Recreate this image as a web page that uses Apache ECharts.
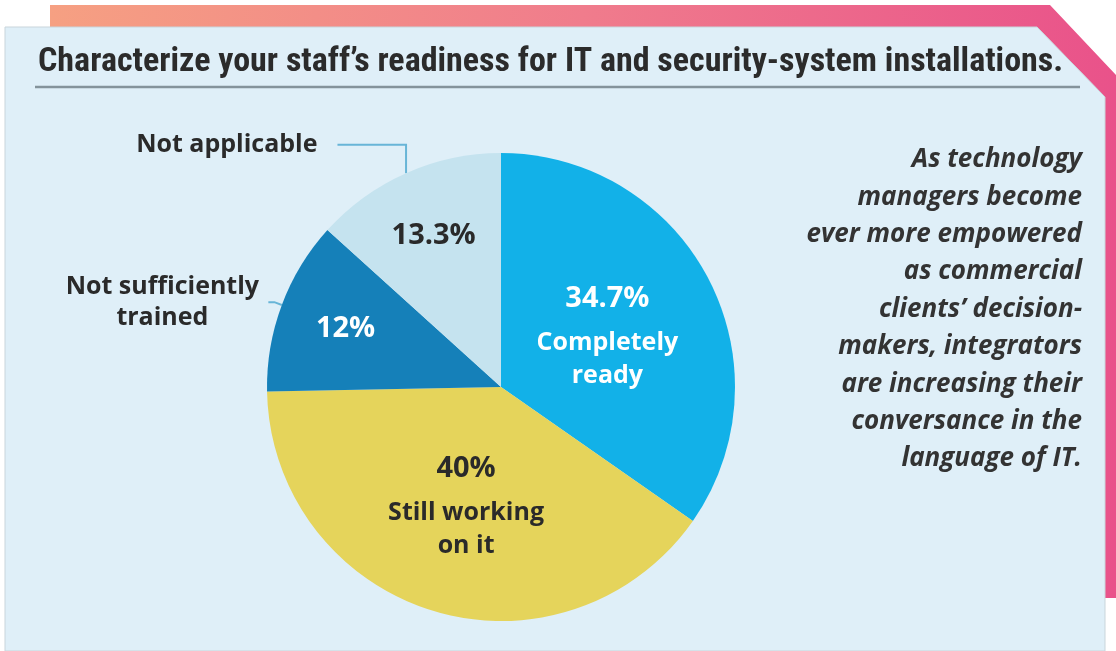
<!DOCTYPE html>
<html>
<head>
<meta charset="utf-8">
<title>Staff readiness for IT installations</title>
<script src="https://cdn.jsdelivr.net/npm/echarts@6/dist/echarts.min.js"></script>
<style>
  html, body { margin: 0; padding: 0; background: #ffffff; }
  #chart { width: 1116px; height: 651px; }
</style>
</head>
<body>
<div id="chart"></div>
<script>
// 数据
const categories = ['Completely ready', 'Still working on it', 'Not sufficiently trained', 'Not applicable'];
const shares = [34.7, 40, 12, 13.3];
const shareLabels = ['34.7%', '40%', '12%', '13.3%'];
const labelLines = ['Completely\nready', 'Still working\non it', 'Not sufficiently\ntrained', 'Not applicable'];
const sliceColors = ['#12b1e8', '#e5d45b', '#1580b9', '#c5e3ef'];
const titleText = 'Characterize your staff\u2019s readiness for IT and security-system installations.';
const noteLines = [
  'As technology',
  'managers become',
  'ever more empowered',
  'as commercial',
  'clients\u2019 decision-',
  'makers, integrators',
  'are increasing their',
  'conversance in the',
  'language of IT.'
];

const chart = echarts.init(document.getElementById('chart'));

const labelFont = '"Open Sans", Lato, sans-serif';
const leaderColor = '#68b5d7';

// 大扇区：百分比 + 名称放在扇区内
function insideLabel(i, color) {
  const name = labelLines[i].split('\n').map(s => '{n|' + s + '}').join('\n');
  return {
    show: true,
    position: 'inside',
    formatter: '{p|' + shareLabels[i] + '}\n' + name,
    rich: {
      p: { fontFamily: labelFont, fontWeight: 'bold', fontSize: 29, lineHeight: 55, color: color },
      n: { fontFamily: labelFont, fontWeight: 'bold', fontSize: 25, lineHeight: 33, color: color }
    }
  };
}

const mainData = categories.map((c, i) => {
  const item = { name: c, value: shares[i], itemStyle: { color: sliceColors[i] } };
  if (i === 0) item.label = insideLabel(0, '#ffffff');
  if (i === 1) item.label = insideLabel(1, '#2a2a2a');
  if (i === 2) {
    item.label = {
      show: true, position: 'outside', distanceToLabelLine: 10,
      formatter: labelLines[2].split('\n').map(s => '{o|' + s + '}').join('\n'),
      rich: { o: { fontFamily: labelFont, fontWeight: 'bold', fontSize: 25, lineHeight: 31, color: '#2a2a2a', width: 192, align: 'center' } }
    };
    item.labelLine = { show: true, length: 8, length2: 6, lineStyle: { color: leaderColor, width: 2 } };
  }
  if (i === 3) {
    item.label = {
      show: true, position: 'outside', distanceToLabelLine: 20,
      formatter: labelLines[3],
      fontFamily: labelFont, fontWeight: 'bold', fontSize: 25, color: '#2a2a2a'
    };
    item.labelLine = { show: true, length: 31, length2: 56, lineStyle: { color: leaderColor, width: 2 } };
  }
  return item;
});

// 小扇区的百分比放在更靠外的位置，用透明的叠加饼图来定位
const overlayData = categories.map((c, i) => ({
  name: c,
  value: shares[i],
  label: i >= 2 ? {
    show: true,
    position: 'inside',
    formatter: shareLabels[i],
    fontFamily: labelFont, fontWeight: 'bold', fontSize: 29,
    color: i === 2 ? '#ffffff' : '#2a2a2a'
  } : { show: false }
}));

const option = {
  backgroundColor: '#ffffff',
  animation: false,
  graphic: [
    // 粉色外框
    {
      type: 'polygon', z: 0,
      shape: { points: [[50, 5], [1050, 5], [1116, 75], [1116, 598], [1105, 598], [1105, 97], [1037, 27], [50, 27]] },
      style: {
        fill: new echarts.graphic.LinearGradient(0, 0, 1, 0, [
          { offset: 0, color: '#f6a082' },
          { offset: 0.5, color: '#f07c8c' },
          { offset: 1, color: '#e9528a' }
        ])
      }
    },
    // 浅蓝面板
    {
      type: 'polygon', z: 1,
      shape: { points: [[5, 27], [1037, 27], [1105, 97], [1105, 651], [5, 651]] },
      style: { fill: '#dfeff8', stroke: '#c9d5db', lineWidth: 1 }
    },
    // 标题下分隔线
    {
      type: 'line', z: 2,
      shape: { x1: 35, y1: 87, x2: 1080, y2: 87 },
      style: { stroke: '#84939b', lineWidth: 2.5 }
    },
    // 右侧说明文字
    {
      type: 'text', z: 3,
      x: 1082, y: 141,
      style: {
        text: noteLines.join('\n'),
        align: 'right',
        verticalAlign: 'top',
        lineHeight: 37.4,
        font: 'italic bold 26px "Open Sans", Lato, sans-serif',
        fill: '#333333'
      }
    }
  ],
  title: {
    text: titleText,
    left: 33,
    top: 40,
    textStyle: {
      fontFamily: '"Liberation Sans Narrow", "Roboto Condensed", Roboto, sans-serif',
      fontWeight: 'bold',
      fontSize: 34,
      color: '#2b2b2b'
    }
  },
  series: [
    {
      name: 'Readiness',
      type: 'pie',
      z: 2,
      center: [501, 387],
      radius: [0, 234],
      startAngle: 90,
      clockwise: true,
      avoidLabelOverlap: false,
      silent: true,
      itemStyle: { borderWidth: 0 },
      emphasis: { disabled: true },
      labelLayout: function (params) {
        // 折线改成先竖后横的样式
        if (params.dataIndex !== 3 || !params.labelLinePoints) return {};
        const pts = params.labelLinePoints;
        return { labelLinePoints: [pts[0], [pts[0][0], pts[2][1]], pts[2]] };
      },
      data: mainData
    },
    {
      name: 'Readiness labels',
      type: 'pie',
      z: 3,
      center: [501, 387],
      radius: [0, 326],
      startAngle: 90,
      clockwise: true,
      avoidLabelOverlap: false,
      silent: true,
      itemStyle: { color: 'rgba(0,0,0,0)', borderWidth: 0 },
      emphasis: { disabled: true },
      labelLine: { show: false },
      data: overlayData
    }
  ]
};

chart.setOption(option);
</script>
</body>
</html>
